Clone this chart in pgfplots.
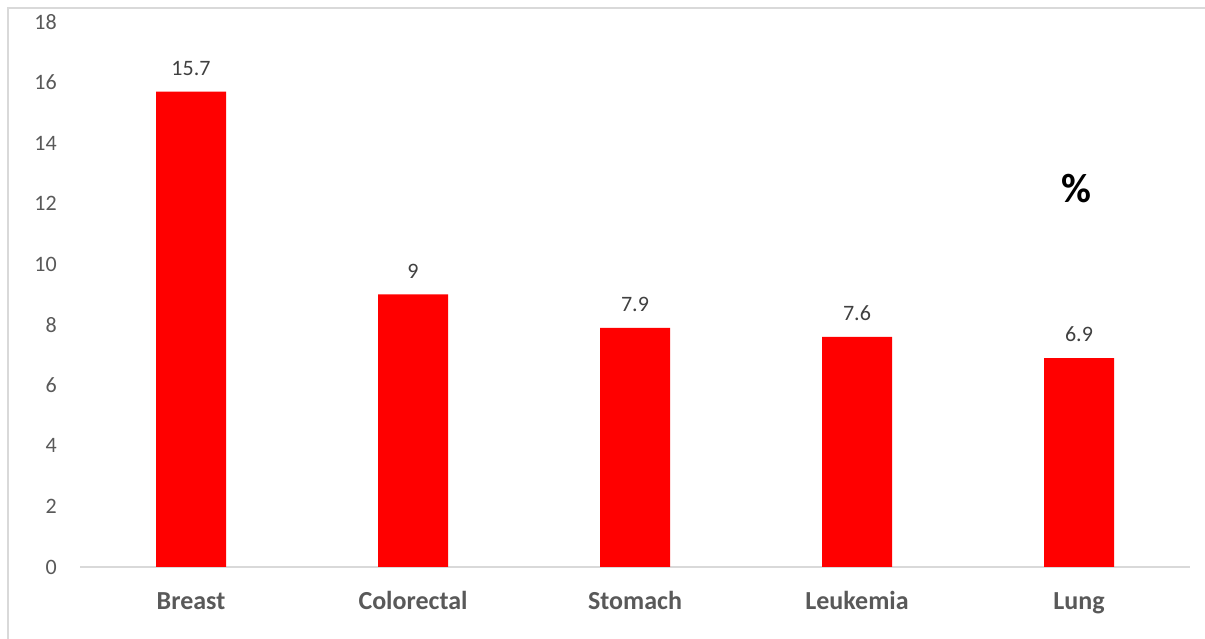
\documentclass[border=0pt]{standalone}
\usepackage{pgfplots}
\pgfplotsset{compat=1.18}
\usepackage{fontspec}
\setmainfont{Carlito}
\definecolor{barred}{HTML}{FF0000}
\definecolor{ticktext}{HTML}{595959}
\definecolor{valtext}{HTML}{404040}
\definecolor{rulegray}{HTML}{D9D9D9}
\begin{document}
\begin{tikzpicture}[x=1pt,y=1pt]
\useasboundingbox (0,0) rectangle (1205,639);
% chart frame
\draw[rulegray, line width=2pt] (8,-20) -- (8,631) -- (1230,631);
\begin{axis}[
  at={(80pt,72pt)}, anchor=south west,
  scale only axis, width=1110pt, height=545pt,
  xmin=-0.5, xmax=4.5, ymin=0, ymax=18,
  ytick={0,2,...,18},
  xtick={0,1,2,3,4},
  xticklabels={Breast,Colorectal,Stomach,Leukemia,Lung},
  /pgf/number format/assume math mode=true,
  axis x line*=bottom, axis y line*=left,
  axis line style={-},
  y axis line style={draw=none},
  x axis line style={rulegray, line width=1.5pt},
  major tick length=0pt,
  yticklabel style={font=\fontsize{22}{26}\selectfont, text=ticktext, inner sep=0pt, anchor=east, xshift=-23pt},
  xticklabel style={font=\bfseries\fontsize{26}{31}\selectfont, text=ticktext, inner sep=0pt, anchor=north, text height=19pt, text depth=6pt, yshift=-23pt},
  ybar, bar width=70pt,
  nodes near coords,
  every node near coord/.append style={font=\fontsize{22}{26}\selectfont, text=valtext, inner sep=0pt, anchor=south, yshift=16pt},
  clip=false,
]
\addplot[fill=barred, draw=none] coordinates {(0,15.7) (1,9) (2,7.9) (3,7.6) (4,6.9)};
\node[font=\bfseries\fontsize{41}{45}\selectfont, text=black] at (axis cs:3.99,12.5) {\%};
\end{axis}
\end{tikzpicture}
\end{document}
